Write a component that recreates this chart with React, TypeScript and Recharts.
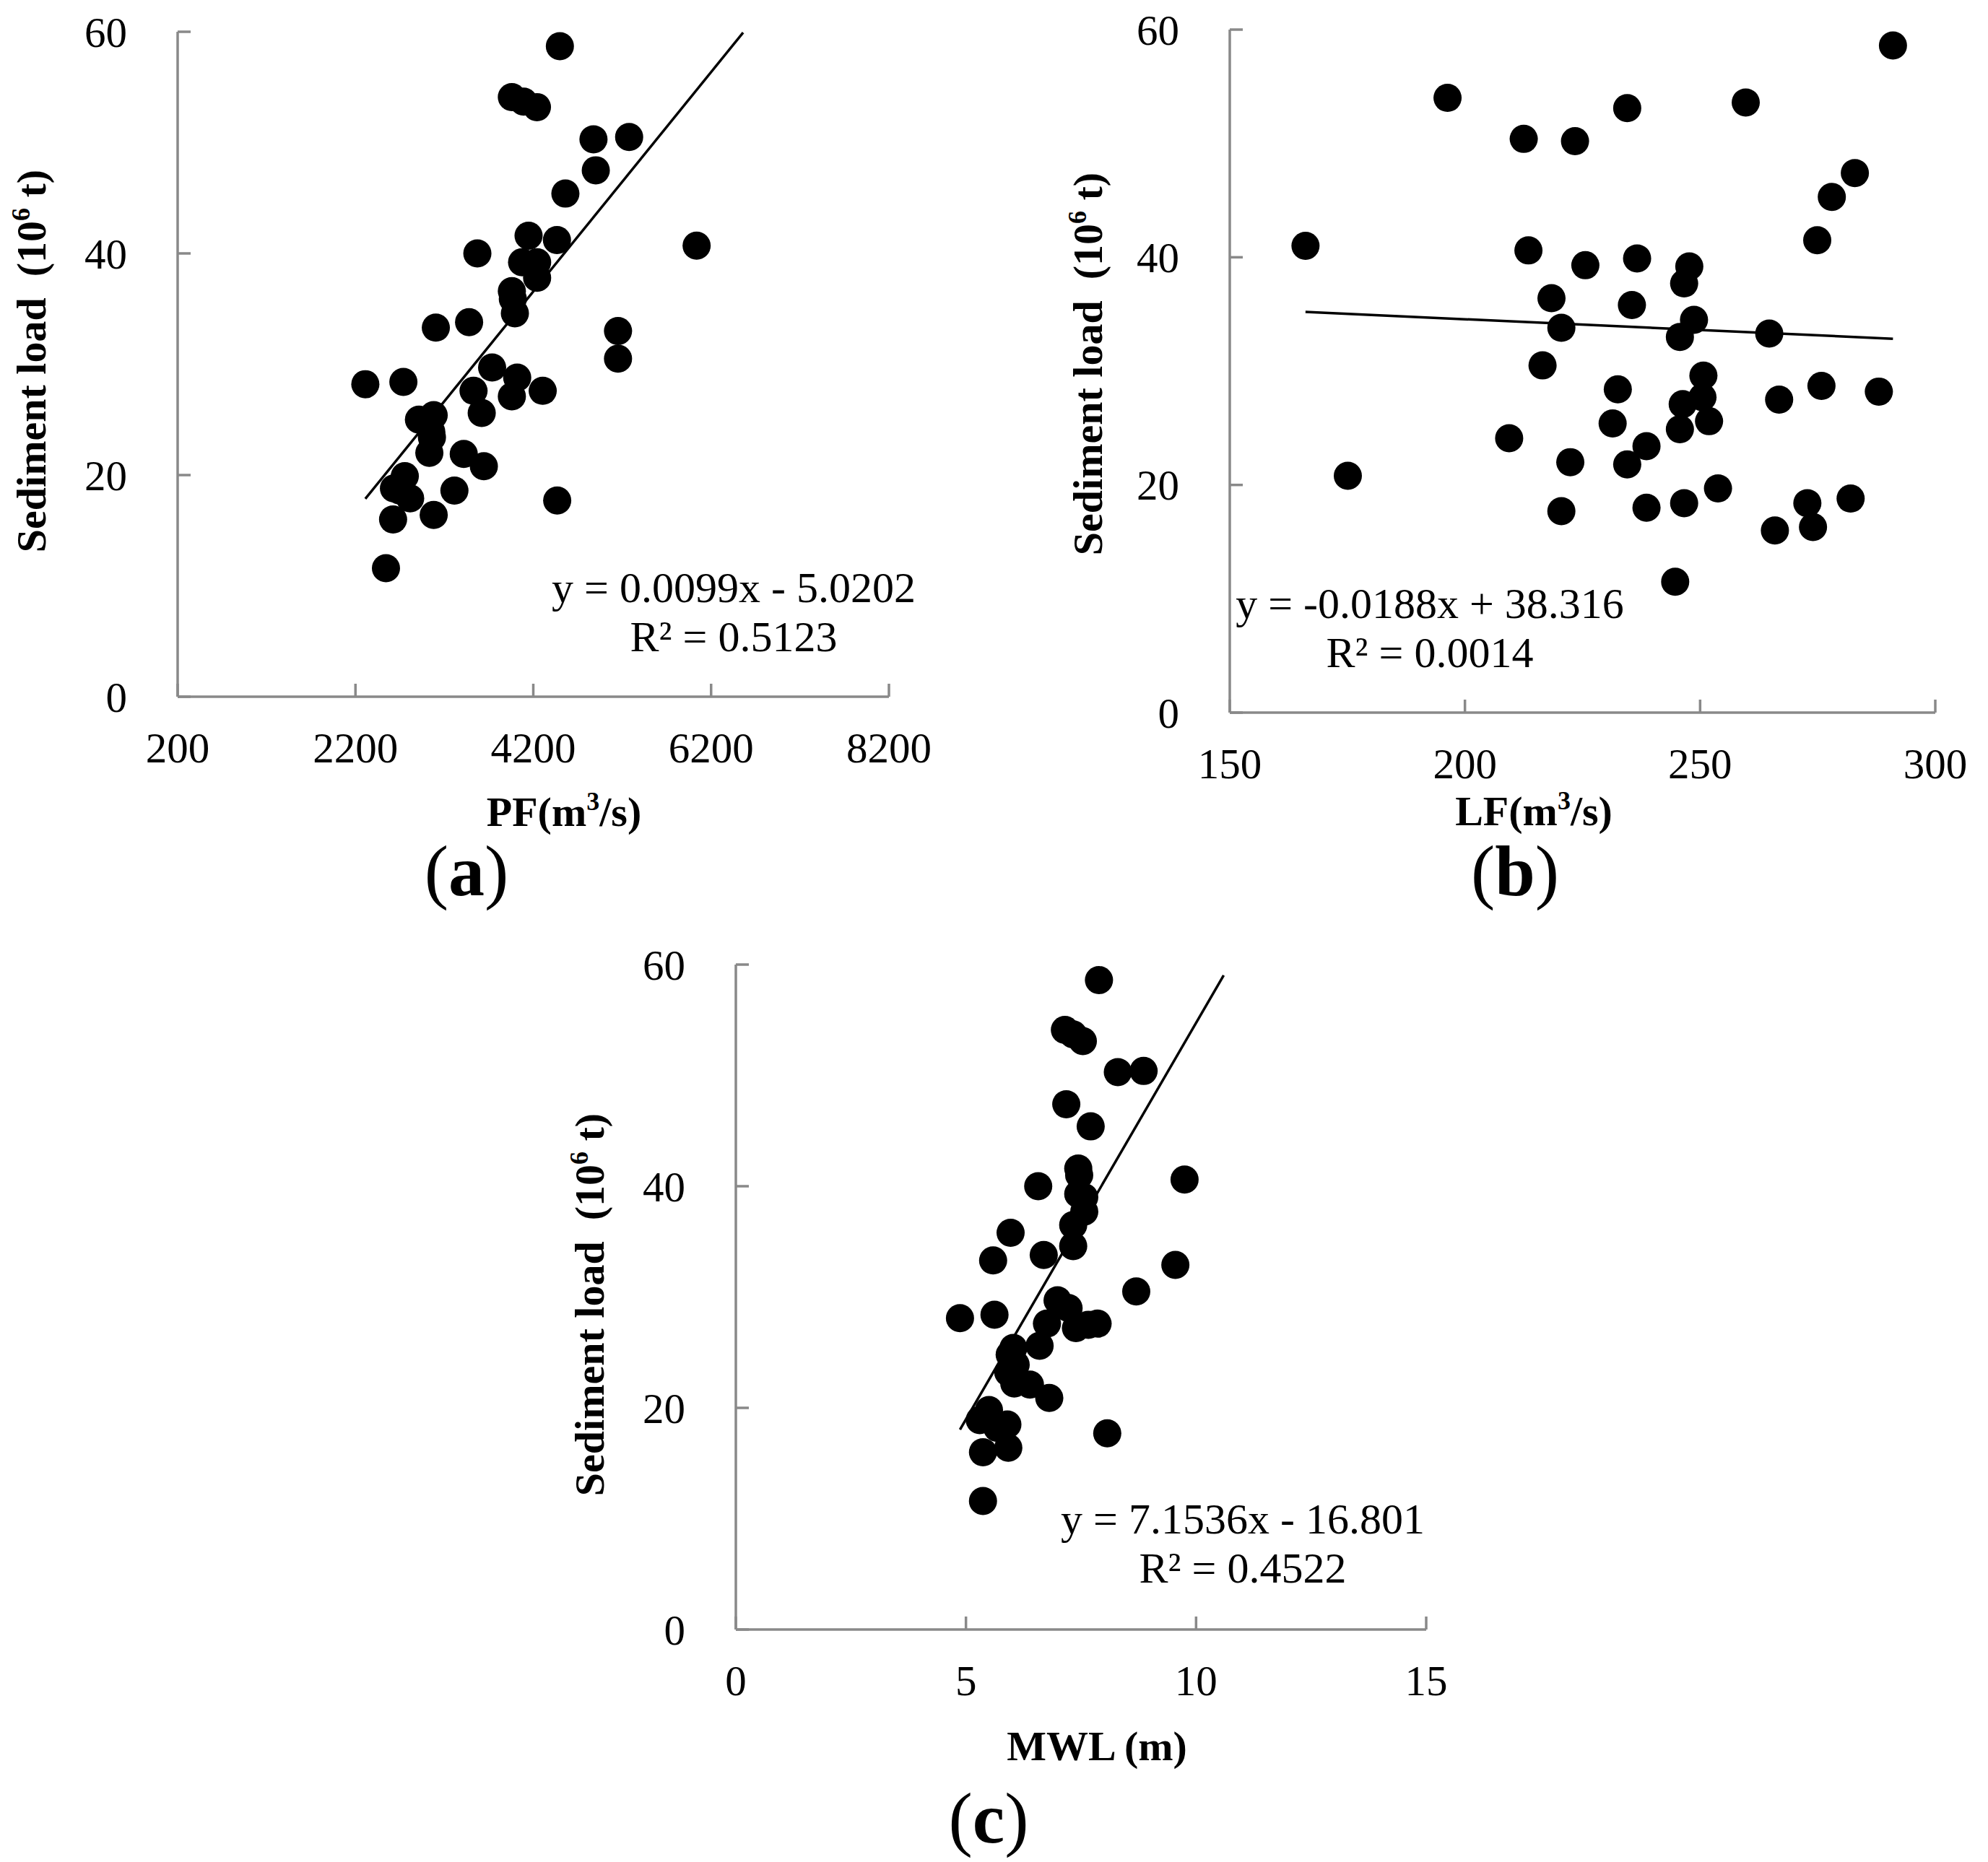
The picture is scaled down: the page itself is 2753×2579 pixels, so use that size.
import React from 'react';
import { ScatterChart, Scatter, XAxis, YAxis, ReferenceLine } from 'recharts';

// sediment load vs PF (peak flow)
const pfX = [4499, 3959, 4091, 4241, 4877, 5278, 4903, 4561, 4147, 4466, 6037, 3571, 4074, 4243, 4243, 3959,
  3970, 3993, 3478, 3104, 5153, 5153, 3737, 4019, 2739, 2311, 3528, 4306, 3959, 3620, 3080, 2914,
  3053, 3060, 3031, 3418, 3644, 2755, 2633, 3313, 2700, 2815, 4469, 3080, 2623, 2543];
const pfY = [58.7, 54.1, 53.7, 53.2, 50.3, 50.5, 47.5, 45.4, 41.6, 41.2, 40.7, 40.0, 39.2, 39.2, 37.8, 36.6,
  35.9, 34.6, 33.8, 33.3, 33.0, 30.5, 29.7, 28.8, 28.4, 28.2, 27.6, 27.6, 27.1, 25.6, 25.4, 25.0,
  23.9, 23.4, 22.0, 21.9, 20.8, 19.9, 18.8, 18.6, 18.6, 17.9, 17.7, 16.4, 16.0, 11.6];

// sediment load vs LF (low flow)
const lfX = [291.0, 196.3, 259.7, 234.5, 212.5, 223.4, 282.9, 278.0, 274.9, 166.1, 213.5, 236.6, 225.6, 247.7, 246.6, 218.4,
  235.5, 248.7, 220.5, 245.7, 264.7, 216.5, 250.7, 232.5, 288.0, 275.8, 266.8, 246.3, 250.5, 251.9, 231.4, 245.7,
  209.4, 238.6, 234.5, 222.4, 175.1, 253.8, 246.6, 238.6, 220.5, 272.8, 282.0, 265.9, 274.0, 244.7];
const lfY = [58.6, 54.0, 53.6, 53.1, 50.4, 50.2, 47.4, 45.3, 41.5, 41.0, 40.6, 39.9, 39.3, 39.2, 37.7, 36.4,
  35.8, 34.5, 33.8, 33.0, 33.3, 30.5, 29.6, 28.4, 28.2, 28.7, 27.5, 27.1, 27.7, 25.6, 25.4, 24.9,
  24.1, 23.4, 21.8, 22.0, 20.8, 19.7, 18.4, 18.0, 17.7, 18.4, 18.8, 16.0, 16.3, 11.5];

// sediment load vs MWL (mean water level)
const mwlX = [7.89, 7.15, 7.33, 7.54, 8.30, 8.86, 7.18, 7.71, 7.44, 7.46, 9.75, 6.57, 7.44, 7.57, 7.57, 7.33,
  5.97, 7.33, 6.69, 5.59, 9.55, 8.70, 6.99, 7.23, 5.62, 4.87, 6.76, 7.39, 7.66, 7.86, 6.60, 6.03,
  5.95, 6.08, 5.92, 6.39, 6.05, 6.81, 5.50, 5.30, 5.90, 5.68, 8.07, 5.92, 5.37, 5.37];
const mwlY = [58.6, 54.1, 53.7, 53.1, 50.3, 50.4, 47.4, 45.4, 41.6, 41.0, 40.6, 40.0, 39.3, 39.0, 37.7, 36.5,
  35.8, 34.6, 33.8, 33.3, 32.9, 30.5, 29.7, 29.0, 28.4, 28.1, 27.6, 27.2, 27.5, 27.6, 25.6, 25.4,
  24.8, 23.9, 23.2, 22.1, 22.2, 20.9, 19.8, 18.9, 18.5, 18.2, 17.7, 16.4, 16.0, 11.6];

const yTicks = [0, 20, 40, 60];
const pfTicks = [200, 2200, 4200, 6200, 8200];
const lfTicks = [150, 200, 250, 300];
const mwlTicks = [0, 5, 10, 15];

// trend lines (Excel linear fits, as printed on the chart)
const pfFit = { slope: 0.0099, intercept: -5.0202, from: 2311, to: 6560 };
const lfFit = { slope: -0.0188, intercept: 38.316, from: 166.1, to: 291.0 };
const mwlFit = { slope: 7.1536, intercept: -16.801, from: 4.87, to: 10.6 };

const FONT = '"Liberation Serif", "Times New Roman", serif';
const GRAY = '#898989';
const TICK_GAP = 70;
const TICK_LEN = 18;

const toPoints = (xs: number[], ys: number[]) => xs.map((x, i) => ({ x, y: ys[i] }));
const fitSegment = (f: { slope: number; intercept: number; from: number; to: number }) => [
  { x: f.from, y: f.slope * f.from + f.intercept },
  { x: f.to, y: f.slope * f.to + f.intercept },
];

const Dot = (p: any) => <circle cx={p.cx} cy={p.cy} r={19.5} fill="#000" />;

const YTick = (p: any) => (
  <g>
    <line x1={p.x + TICK_GAP} x2={p.x + TICK_GAP + TICK_LEN} y1={p.y} y2={p.y} stroke={GRAY} strokeWidth={3.5} />
    <text x={p.x} y={p.y} dy="0.35em" textAnchor="end" fontFamily={FONT} fontSize={59} fill="#000">
      {p.payload.value}
    </text>
  </g>
);

const XTick = (p: any) => (
  <g>
    <line x1={p.x} x2={p.x} y1={p.y - TICK_GAP} y2={p.y - TICK_GAP - TICK_LEN} stroke={GRAY} strokeWidth={3.5} />
    <text x={p.x} y={p.y} dy="0.35em" textAnchor="middle" fontFamily={FONT} fontSize={59} fill="#000">
      {p.payload.value}
    </text>
  </g>
);

function YTitle({ bx, cy }: { bx: number; cy: number }) {
  return (
    <text x={bx} y={cy} transform={`rotate(-90, ${bx}, ${cy})`} textAnchor="middle"
      fontFamily={FONT} fontWeight="bold" fontSize={58} fill="#000">
      <tspan>{'Sediment load\u00a0 (10'}</tspan>
      <tspan dy={-22} fontSize={36}>6</tspan>
      <tspan dy={22}>{' t)'}</tspan>
    </text>
  );
}

type Texts = {
  title: string;
  sup?: string;
  titleX: number;
  titleY: number;
  letter: string;
  letterX: number;
  letterY: number;
  eq: string;
  r2: string;
  eqX: number;
  eqY: number;
};

function BottomTexts({ t }: { t: Texts }) {
  return (
    <g fontFamily={FONT} fill="#000">
      <text x={t.titleX} y={t.titleY} textAnchor="middle" fontWeight="bold" fontSize={58}>
        <tspan>{t.title}</tspan>
        {t.sup ? <tspan dy={-22} fontSize={36}>{t.sup}</tspan> : null}
        {t.sup ? <tspan dy={22}>/s)</tspan> : null}
      </text>
      <text x={t.letterX} y={t.letterY} textAnchor="middle" fontSize={100}>
        (<tspan fontWeight="bold">{t.letter}</tspan>)
      </text>
      <text x={t.eqX} y={t.eqY} textAnchor="middle" fontSize={60}>{t.eq}</text>
      <text x={t.eqX} y={t.eqY + 68} textAnchor="middle" fontSize={60}>{t.r2}</text>
    </g>
  );
}

type PanelProps = {
  left: number;
  top: number;
  width: number;
  height: number;
  margin: { top: number; right: number; bottom: number; left: number };
  yWidth: number;
  xHeight: number;
  xDomain: [number, number];
  xTicks: number[];
  data: { x: number; y: number }[];
  fit: { slope: number; intercept: number; from: number; to: number };
  yTitle: { bx: number; cy: number };
  texts: Texts;
};

function Panel(p: PanelProps) {
  return (
    <div style={{ position: 'absolute', left: p.left, top: p.top }}>
      <ScatterChart width={p.width} height={p.height} margin={p.margin}>
        <XAxis type="number" dataKey="x" domain={p.xDomain} ticks={p.xTicks} interval={0}
          height={p.xHeight} tickSize={0} tickMargin={TICK_GAP} tickLine={false}
          axisLine={{ stroke: GRAY, strokeWidth: 3.5 }} tick={<XTick />}
          label={<BottomTexts t={p.texts} />} />
        <YAxis type="number" dataKey="y" domain={[0, 60]} ticks={yTicks} interval={0}
          width={p.yWidth} tickSize={0} tickMargin={TICK_GAP} tickLine={false}
          axisLine={{ stroke: GRAY, strokeWidth: 3.5 }} tick={<YTick />}
          label={<YTitle bx={p.yTitle.bx} cy={p.yTitle.cy} />} />
        <Scatter data={p.data} fill="#000" shape={Dot} isAnimationActive={false} />
        <ReferenceLine segment={fitSegment(p.fit)} stroke="#000" strokeWidth={3.5} />
      </ScatterChart>
    </div>
  );
}

export default function App() {
  return (
    <div style={{ position: 'absolute', left: 0, top: 0, width: 2753, height: 2579, background: '#fff' }}>
      <Panel left={0} top={0} width={1300} height={1290}
        margin={{ top: 44, right: 69, bottom: 0, left: 0 }} yWidth={246} xHeight={325}
        xDomain={[200, 8200]} xTicks={pfTicks} data={toPoints(pfX, pfY)} fit={pfFit}
        yTitle={{ bx: 63, cy: 500 }}
        texts={{ title: 'PF(m', sup: '3', titleX: 781, titleY: 1144, letter: 'a', letterX: 646, letterY: 1240,
          eq: 'y = 0.0099x - 5.0202', r2: 'R² = 0.5123', eqX: 1016, eqY: 834 }} />
      <Panel left={1450} top={0} width={1303} height={1290}
        margin={{ top: 41, right: 73, bottom: 0, left: 0 }} yWidth={253} xHeight={303}
        xDomain={[150, 300]} xTicks={lfTicks} data={toPoints(lfX, lfY)} fit={lfFit}
        yTitle={{ bx: 76, cy: 504 }}
        texts={{ title: 'LF(m', sup: '3', titleX: 674, titleY: 1143, letter: 'b', letterX: 648, letterY: 1240,
          eq: 'y = -0.0188x + 38.316', r2: 'R² = 0.0014', eqX: 530, eqY: 856 }} />
      <Panel left={750} top={1290} width={1300} height={1289}
        margin={{ top: 46, right: 75, bottom: 0, left: 0 }} yWidth={269} xHeight={322}
        xDomain={[0, 15]} xTicks={mwlTicks} data={toPoints(mwlX, mwlY)} fit={mwlFit}
        yTitle={{ bx: 86, cy: 517 }}
        texts={{ title: 'MWL (m)', titleX: 769, titleY: 1148, letter: 'c', letterX: 619, letterY: 1262,
          eq: 'y = 7.1536x - 16.801', r2: 'R² = 0.4522', eqX: 971, eqY: 834 }} />
    </div>
  );
}
